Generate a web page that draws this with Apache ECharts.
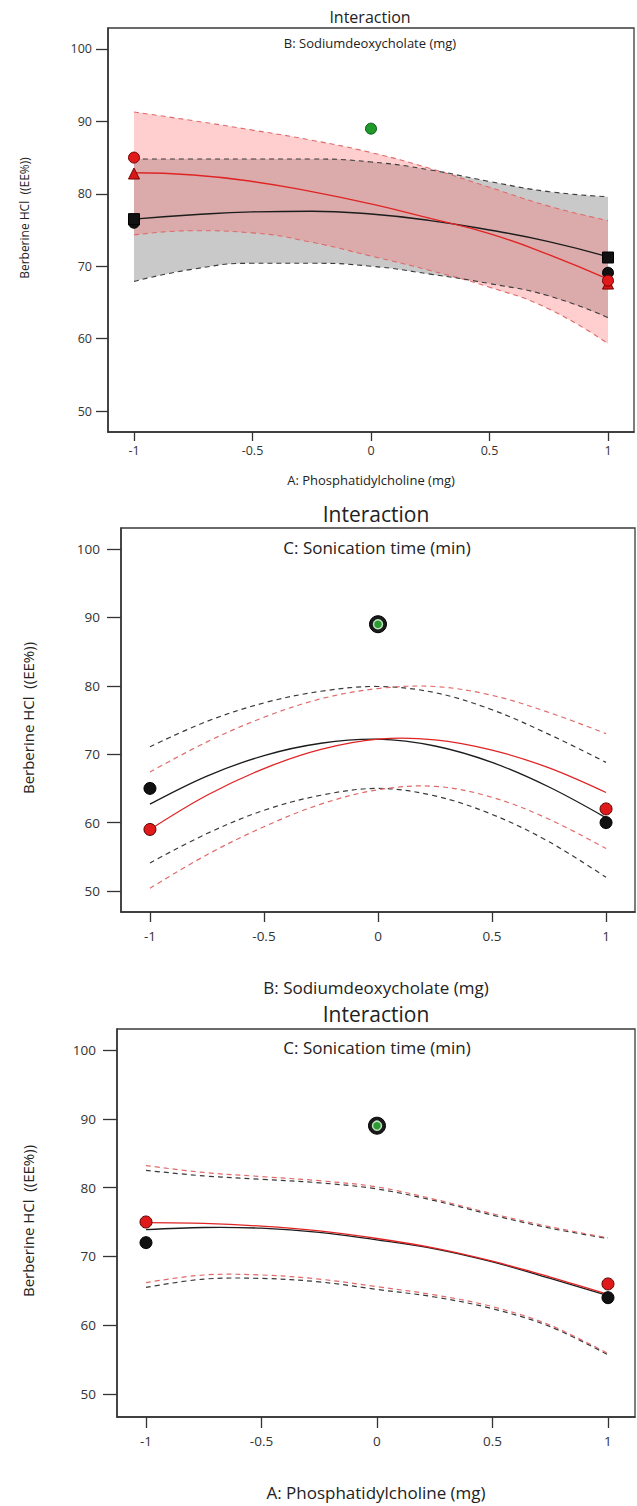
<!DOCTYPE html>
<html>
<head>
<meta charset="utf-8">
<script src="https://cdn.jsdelivr.net/npm/echarts@6/dist/echarts.min.js"></script>
<style>
html,body{margin:0;padding:0;background:#fff;}
#chart{width:637px;height:1506px;}
</style>
</head>
<body>
<div id="chart"></div>
<script>
// ---------- data ----------
const xs = [-1, -0.75, -0.5, -0.25, 0, 0.25, 0.5, 0.75, 1];
const xTicks = [-1, -0.5, 0, 0.5, 1];
const yTicks = [50, 60, 70, 80, 90, 100];

const titles = ["Interaction", "Interaction", "Interaction"];
const subTitles = ["B: Sodiumdeoxycholate (mg)", "C: Sonication time (min)", "C: Sonication time (min)"];
const xNames = ["A: Phosphatidylcholine (mg)", "B: Sodiumdeoxycholate (mg)", "A: Phosphatidylcholine (mg)"];
const yName = "Berberine HCl  ((EE%))";

// Panel 1 (A x B)
const p1RedFit   = [82.9, 82.6, 81.7, 80.3, 78.6, 76.6, 74.5, 71.6, 68.2];
const p1RedUp    = [91.3, 90.1, 88.8, 87.4, 85.7, 83.5, 80.9, 78.3, 76.3];
const p1RedLo    = [74.3, 74.9, 74.6, 73.3, 71.4, 69.4, 67.1, 64.1, 59.3];
const p1BlkFit   = [76.5, 77.1, 77.5, 77.6, 77.2, 76.3, 75.0, 73.4, 71.3];
const p1BlkUp    = [84.8, 84.8, 84.8, 84.8, 84.4, 83.3, 81.7, 80.3, 79.6];
const p1BlkLo    = [67.9, 69.6, 70.4, 70.4, 70.0, 68.9, 67.6, 65.9, 62.9];
const p1RedCircles   = [[-1, 85.0], [1, 68.0]];
const p1RedTriangles = [[-1, 82.8], [1, 67.6]];
const p1BlkSquares   = [[-1, 76.5], [1, 71.2]];
const p1BlkCircles   = [[-1, 76.0], [1, 69.1]];
const p1Green        = [[0, 89.0]];

// Panel 2 (B x C)
const p2RedFit = [59.0, 64.0, 67.9, 70.7, 72.2, 72.1, 70.6, 68.0, 64.4];
const p2RedUp  = [67.4, 71.8, 75.4, 78.1, 79.6, 79.9, 78.6, 76.1, 73.0];
const p2RedLo  = [50.4, 55.3, 59.4, 62.7, 64.8, 65.3, 63.7, 60.5, 56.2];
const p2BlkFit = [62.7, 66.8, 69.8, 71.6, 72.2, 71.2, 68.8, 65.2, 60.7];
const p2BlkUp  = [71.1, 74.8, 77.5, 79.2, 79.9, 79.0, 76.5, 72.9, 68.8];
const p2BlkLo  = [54.1, 58.4, 61.8, 64.0, 65.0, 63.9, 61.2, 57.2, 52.0];
const p2RedPts = [[-1, 59.0], [1, 62.0]];
const p2BlkPts = [[-1, 65.0], [1, 60.0]];
const p2Green  = [[0, 89.0]];

// Panel 3 (A x C)
const p3RedFit = [74.9, 74.8, 74.4, 73.7, 72.6, 71.2, 69.3, 67.0, 64.5];
const p3RedUp  = [83.2, 82.2, 81.6, 81.0, 80.1, 78.3, 76.2, 74.3, 72.7];
const p3RedLo  = [66.2, 67.3, 67.3, 66.7, 65.6, 64.4, 62.7, 60.0, 55.9];
const p3BlkFit = [73.9, 74.2, 74.1, 73.5, 72.4, 71.1, 69.2, 66.8, 64.3];
const p3BlkUp  = [82.5, 81.7, 81.2, 80.7, 79.8, 78.1, 76.0, 74.1, 72.6];
const p3BlkLo  = [65.5, 66.7, 66.8, 66.3, 65.2, 64.1, 62.4, 59.8, 55.7];
const p3RedPts = [[-1, 75.0], [1, 66.0]];
const p3BlkPts = [[-1, 72.0], [1, 64.0]];
const p3Green  = [[0, 89.0]];

// ---------- layout ----------
const FONT = "'Open Sans', 'Noto Sans', sans-serif";
const layout = [
  {left:108, top:28,   width:526, height:404, xmin:-1.1097, xmax:1.1097, ymin:47.1,  ymax:102.9,
   tickFs:12.5, xTickLen:9, yTickLen:12, xLabMargin:12, yLabMargin:16,
   title:{x:370, y:17, fs:16}, sub:{x:370, y:43, fs:13}, xn:{x:371, y:480, fs:13}, yn:{x:24, y:218, fs:12}},
  {left:121, top:528,  width:514, height:384, xmin:-1.127, xmax:1.127, ymin:46.93, ymax:103.07,
   tickFs:13.5, xTickLen:10, yTickLen:14, xLabMargin:17, yLabMargin:21,
   title:{x:376, y:514, fs:21}, sub:{x:377, y:547, fs:17}, xn:{x:376, y:987, fs:17}, yn:{x:28, y:718, fs:15}},
  {left:117, top:1029, width:518, height:388, xmin:-1.1255, xmax:1.117, ymin:46.66, ymax:103.05,
   tickFs:13.5, xTickLen:11, yTickLen:14, xLabMargin:17, yLabMargin:21,
   title:{x:376, y:1014, fs:21}, sub:{x:377, y:1047, fs:17}, xn:{x:376, y:1492, fs:17}, yn:{x:28, y:1221, fs:15}}
];

const AX = '#333';
const grids = [], xAxes = [], yAxes = [], graphics = [], series = [];

layout.forEach((L, i) => {
  grids.push({left:L.left, top:L.top, width:L.width, height:L.height, show:true,
              borderColor:'#3a3a3a', borderWidth:1.3});
  xAxes.push({gridIndex:i, type:'value', min:L.xmin, max:L.xmax,
    axisLine:{show:true, onZero:false, lineStyle:{color:AX, width:1.5}},
    axisTick:{show:true, customValues:xTicks, length:L.xTickLen, lineStyle:{color:AX, width:1.3}},
    axisLabel:{customValues:xTicks, margin:L.xLabMargin, fontSize:L.tickFs, color:'#333', fontFamily:FONT},
    splitLine:{show:false}});
  yAxes.push({gridIndex:i, type:'value', min:L.ymin, max:L.ymax,
    axisLine:{show:true, onZero:false, lineStyle:{color:AX, width:1.5}},
    axisTick:{show:true, customValues:yTicks, length:L.yTickLen, lineStyle:{color:AX, width:1.3}},
    axisLabel:{customValues:yTicks, margin:L.yLabMargin, fontSize:L.tickFs, color:'#333', fontFamily:FONT},
    splitLine:{show:false}});
  const txt = (t, p, extra) => Object.assign({type:'text', x:p.x, y:p.y, z:100,
    style:{text:t, fontSize:p.fs, fontFamily:FONT, fill:'#222', align:'center', verticalAlign:'middle'}}, extra||{});
  graphics.push(txt(titles[i], L.title));
  graphics.push(txt(subTitles[i], L.sub));
  graphics.push(txt(xNames[i], L.xn));
  graphics.push(txt(yName, L.yn, {rotation: Math.PI/2}));
});

const pairs = ys => xs.map((x, k) => [x, ys[k]]);
// y first so that stacking acts on the y dimension
const pairsYX = ys => xs.map((x, k) => [ys[k], x]);
function curve(gi, ys, color, dashed, width, z) {
  return {type:'line', xAxisIndex:gi, yAxisIndex:gi, data:pairs(ys), smooth:true,
    symbol:'none', silent:true, z:z||3, animation:false,
    lineStyle:{color:color, width:width, type: dashed ? [5,4] : 'solid'}};
}
// smooth curve without extreme clamping (points mapped through the axes by api.coord)
function scurve(gi, ys, color, dashed, width, z) {
  const data = pairs(ys);
  return {type:'custom', coordinateSystem:'cartesian2d', xAxisIndex:gi, yAxisIndex:gi, data:data,
    silent:true, animation:false, z:z||3,
    renderItem: function (params, api) {
      if (params.dataIndex !== 0) return null;
      const points = data.map(p => api.coord(p));
      return {type:'polyline', shape:{points:points, smooth:0.35},
              style:{stroke:color, lineWidth:width, lineDash: dashed ? [5,4] : null, fill:null}};
    }};
}
function band(gi, lo, up, fill, name, z) {
  const diff = up.map((u, k) => +(u - lo[k]).toFixed(3));
  return [
    {type:'line', xAxisIndex:gi, yAxisIndex:gi, data:pairsYX(lo), encode:{x:1, y:0}, stack:name, smooth:true,
     symbol:'none', silent:true, animation:false, z:z, lineStyle:{opacity:0}},
    {type:'line', xAxisIndex:gi, yAxisIndex:gi, data:pairsYX(diff), encode:{x:1, y:0}, stack:name, smooth:true,
     symbol:'none', silent:true, animation:false, z:z, lineStyle:{opacity:0},
     areaStyle:{color:fill, opacity:1}}
  ];
}
function pts(gi, data, symbol, size, color, border, bw, z) {
  return {type:'scatter', xAxisIndex:gi, yAxisIndex:gi, data:data, symbol:symbol, symbolSize:size,
    silent:true, animation:false, z:z||5,
    itemStyle:{color:color, borderColor:border, borderWidth:bw, opacity:1}};
}

const RED = '#e02424', RED_D = '#e06a6a', BLK = '#1c1c1c', BLK_D = '#3a3a3a';

// Panel 1
series.push(...band(0, p1BlkLo, p1BlkUp, '#c9c9c9', 'g1', 1));
series.push(...band(0, p1RedLo, p1RedUp, 'rgba(255,110,110,0.33)', 'r1', 2));
series.push(curve(0, p1RedUp, RED_D, true, 1.1));
series.push(curve(0, p1RedLo, RED_D, true, 1.1));
series.push(curve(0, p1BlkUp, BLK_D, true, 1.1));
series.push(curve(0, p1BlkLo, BLK_D, true, 1.1));
series.push(curve(0, p1BlkFit, BLK, false, 1.4));
series.push(curve(0, p1RedFit, RED, false, 1.4));
series.push(pts(0, p1BlkCircles, 'circle', 11, '#111', '#000', 1, 5));
series.push(pts(0, p1BlkSquares, 'rect', 11, '#111', '#000', 1, 6));
series.push(pts(0, p1RedTriangles, 'triangle', 11, '#d81818', '#7a0000', 1, 6));
series.push(pts(0, p1RedCircles, 'circle', 11, '#e01a1a', '#7a0000', 1, 7));
series.push(pts(0, p1Green, 'circle', 11, '#1f9a2a', '#0b5a14', 1, 7));

// Panel 2
series.push(scurve(1, p2BlkUp, BLK_D, true, 1.2));
series.push(scurve(1, p2BlkLo, BLK_D, true, 1.2));
series.push(scurve(1, p2RedUp, RED_D, true, 1.2));
series.push(scurve(1, p2RedLo, RED_D, true, 1.2));
series.push(scurve(1, p2BlkFit, BLK, false, 1.3));
series.push(scurve(1, p2RedFit, RED, false, 1.3));
series.push(pts(1, p2BlkPts, 'circle', 12, '#111', '#000', 1, 6));
series.push(pts(1, p2RedPts, 'circle', 12, '#e01a1a', '#5a0000', 1, 6));
series.push(pts(1, p2Green, 'circle', 17, '#1a1a1a', '#000', 1, 6));
series.push(pts(1, p2Green, 'circle', 9, '#2e9a36', '#bfe6bf', 1.5, 7));

// Panel 3
series.push(scurve(2, p3BlkUp, BLK_D, true, 1.2));
series.push(scurve(2, p3BlkLo, BLK_D, true, 1.2));
series.push(scurve(2, p3RedUp, RED_D, true, 1.2));
series.push(scurve(2, p3RedLo, RED_D, true, 1.2));
series.push(scurve(2, p3BlkFit, BLK, false, 1.3));
series.push(scurve(2, p3RedFit, RED, false, 1.3));
series.push(pts(2, p3BlkPts, 'circle', 12, '#111', '#000', 1, 6));
series.push(pts(2, p3RedPts, 'circle', 12, '#e01a1a', '#5a0000', 1, 6));
series.push(pts(2, p3Green, 'circle', 17, '#1a1a1a', '#000', 1, 6));
series.push(pts(2, p3Green, 'circle', 9, '#2e9a36', '#bfe6bf', 1.5, 7));

const chart = echarts.init(document.getElementById('chart'), null, {renderer:'svg', width:637, height:1506});
chart.setOption({
  animation:false,
  backgroundColor:'#fff',
  grid:grids, xAxis:xAxes, yAxis:yAxes,
  graphic:graphics,
  series:series
});
</script>
</body>
</html>
